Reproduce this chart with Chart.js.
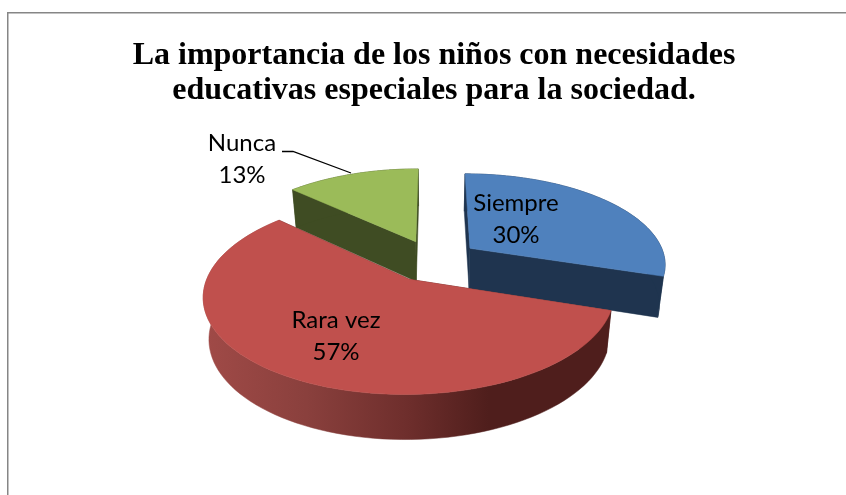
<!DOCTYPE html>
<html><head><meta charset="utf-8">
<style>html,body{margin:0;padding:0;background:#fff}canvas{display:block}</style>
<script src="https://cdn.jsdelivr.net/npm/chart.js@4"></script>
</head><body><canvas id="c" width="846" height="495"></canvas>
<script>
const titleLines = ['La importancia de los niños con necesidades','educativas especiales para la sociedad.'];
const categories = ['Siempre','Rara vez','Nunca'];
const percents = [30,57,13];
const topColors = ['#4f81bd','#c0504d','#9bbb59'];
const wallColors = ['#1f344f','#4f1e1c','#3f4c23'];
const explode = [23.5,23.5,23.5];
const labelPos = [[516,203],[336,320],[242,143]];
const drawOrder = [2,0,1];
const cam = {ox:433.5, oy:260.5, a:196, d:90, k:0.16, h:40.5, s:0.975};

function project(u,v,low){
  const w = 1 - cam.k*v;
  if(low) return [cam.ox + cam.s*cam.a*u/w, cam.oy + cam.d*v/w + cam.h/Math.sqrt(w)];
  return [cam.ox + cam.a*u/w, cam.oy + cam.d*v/w];
}
function poly(ctx,pts,fill){
  ctx.beginPath();
  pts.forEach((p,i)=> i?ctx.lineTo(p[0],p[1]):ctx.moveTo(p[0],p[1]));
  ctx.closePath();
  ctx.fillStyle = fill; ctx.fill();
  ctx.strokeStyle = fill; ctx.lineWidth = 0.5; ctx.stroke();
}
const pie3d = {
  id:'pie3d',
  beforeDatasetDraw(chart){
    const ctx = chart.ctx, arcs = chart.getDatasetMeta(0).data;
    ctx.save();
    // frame
    ctx.fillStyle = '#868686';
    ctx.fillRect(7,12,839,1.5); ctx.fillRect(7,12,1.5,483);
    drawOrder.forEach(i=>{
      const el = arcs[i];
      const e = el.options.offset/100, mid = (el.startAngle+el.endAngle)/2;
      const cu = e*Math.cos(mid), cv = e*Math.sin(mid);
      const pts = [], n = 90;
      for(let j=0;j<=n;j++){
        const t = el.startAngle + (el.endAngle-el.startAngle)*j/n;
        pts.push([cu+Math.cos(t), cv+Math.sin(t), t]);
      }
      const apexT = project(cu,cv,false), apexB = project(cu,cv,true);
      const first = pts[0], last = pts[n];
      // radial walls
      [first,last].forEach(p=>{
        poly(ctx,[apexT,project(p[0],p[1],false),project(p[0],p[1],true),apexB],wallColors[i]);
      });
      // outer wall
      let fill = wallColors[i];
      if(i===1){
        const g = ctx.createLinearGradient(205,0,610,0);
        g.addColorStop(0,'#a04a47'); g.addColorStop(0.25,'#8a403d');
        g.addColorStop(0.5,'#6e2e2c'); g.addColorStop(0.7,'#4f1e1c'); g.addColorStop(1,'#4f1e1c');
        fill = g;
      }
      const upper = pts.map(p=>project(p[0],p[1],false));
      const lower = pts.map(p=>project(p[0],p[1],true)).reverse();
      poly(ctx,upper.concat(lower),fill);
      // top face
      poly(ctx,[apexT].concat(upper),topColors[i]);
    });
    // leader line
    ctx.beginPath();
    ctx.moveTo(282,151.5);ctx.lineTo(293,151.5);ctx.lineTo(351,173);
    ctx.strokeStyle='#000';ctx.lineWidth=1.3;ctx.stroke();
    // labels
    ctx.fillStyle='#000';ctx.font='24px Lato';ctx.textAlign='center';ctx.textBaseline='middle';
    categories.forEach((c,i)=>{
      ctx.fillText(c,labelPos[i][0],labelPos[i][1]);
      ctx.fillText(percents[i]+'%',labelPos[i][0],labelPos[i][1]+32);
    });
    ctx.restore();
    return false;
  }
};
new Chart(document.getElementById('c'),{
  type:'pie',
  data:{labels:categories,datasets:[{data:percents,backgroundColor:topColors,offset:explode,borderWidth:0}]},
  options:{
    responsive:false,animation:false,events:[],
    layout:{padding:{left:22}},
    plugins:{
      legend:{display:false},tooltip:{enabled:false},
      title:{display:true,text:titleLines,color:'#000',align:'center',fullSize:false,
        font:{family:'"Liberation Serif"',size:32,weight:'bold',lineHeight:1.07},
        padding:{top:39,bottom:10}}
    }
  },
  plugins:[pie3d]
});
</script></body></html>
